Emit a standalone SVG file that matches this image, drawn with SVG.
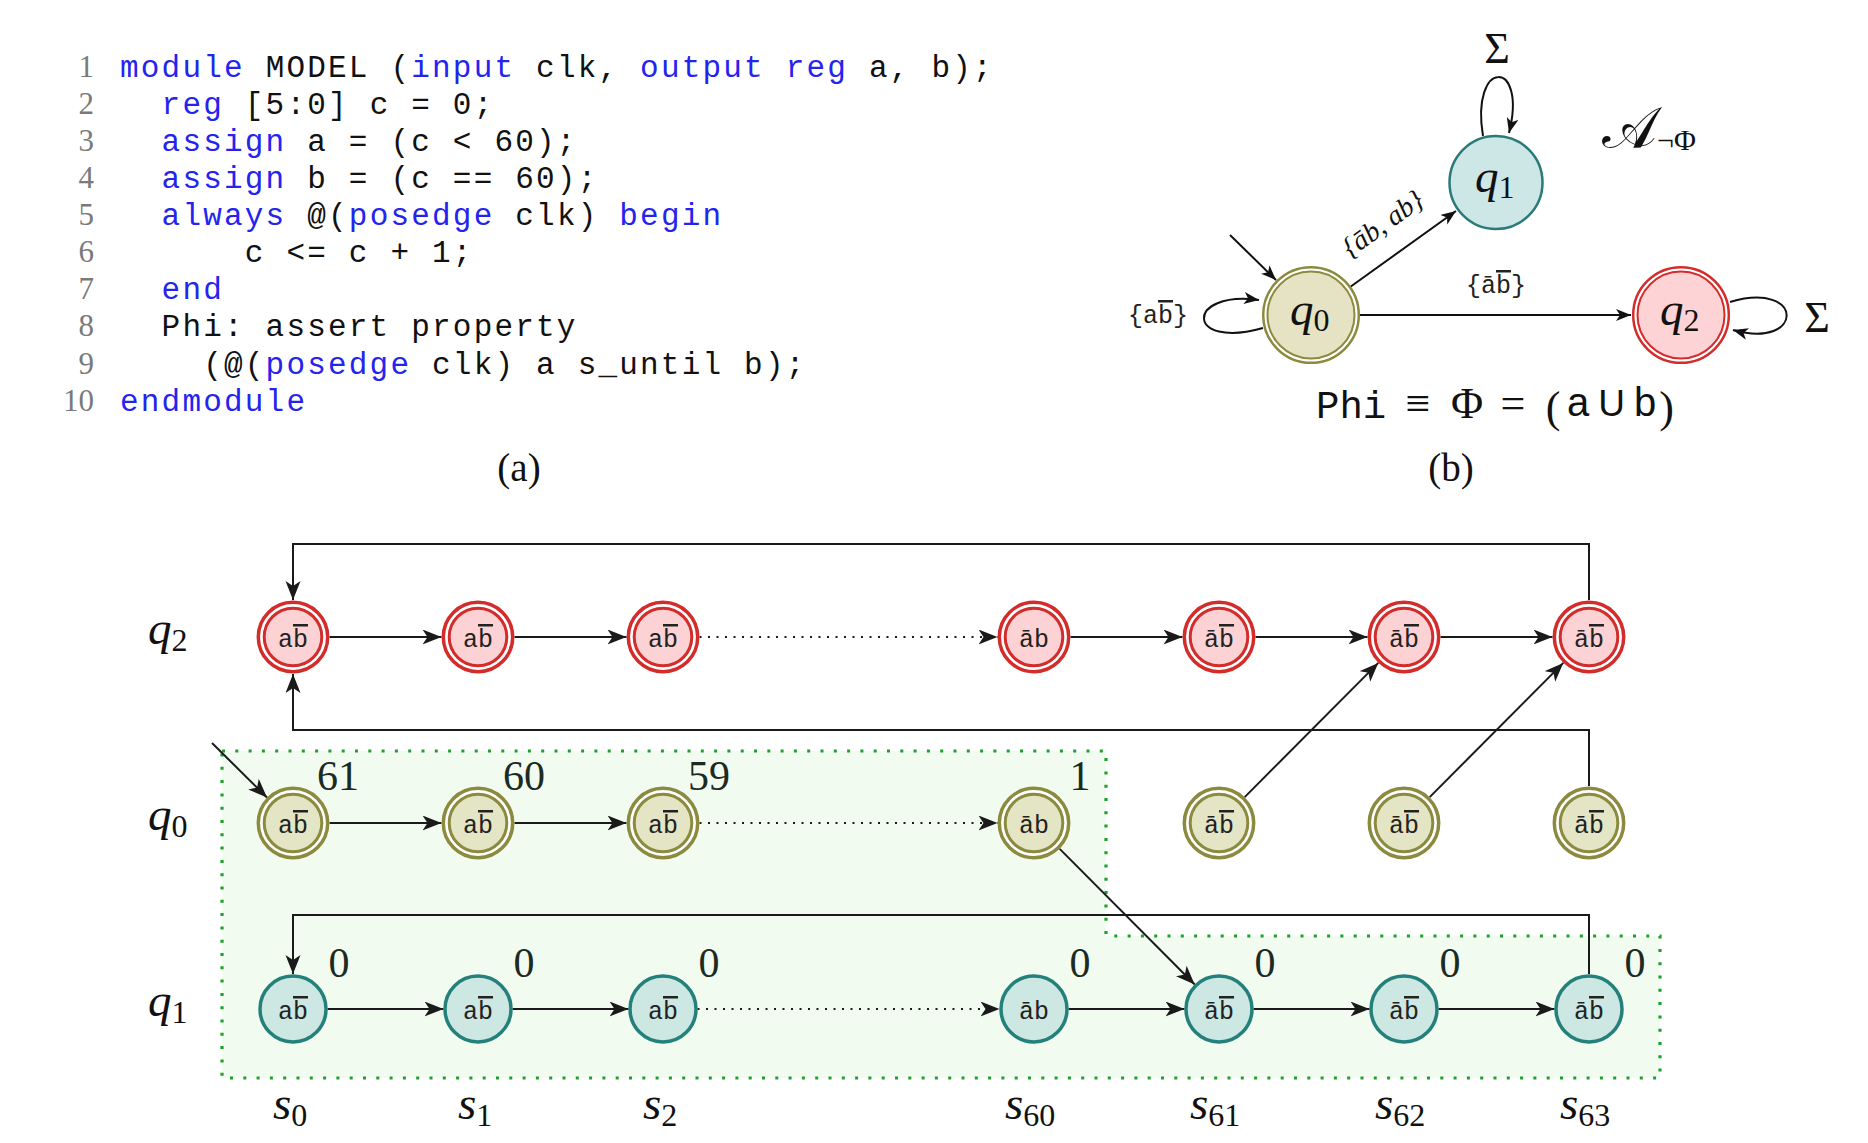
<svg xmlns="http://www.w3.org/2000/svg" width="1868" height="1143" viewBox="0 0 1868 1143">
<defs>
<style>
.code{font-family:"Liberation Mono",monospace;font-size:31px;letter-spacing:2.2px;white-space:pre;fill:#111}
.kw{fill:#2424ee}
.ln{font-family:"Liberation Serif",serif;font-size:31px;fill:#7a7a7a;text-anchor:end}
.cap{font-family:"Liberation Serif",serif;font-size:39px;fill:#111;text-anchor:middle}
.mi{font-family:"Liberation Serif",serif;font-style:italic;font-size:47px;fill:#111}
.sub{font-family:"Liberation Serif",serif;font-style:normal;font-size:32px}
.num{font-family:"Liberation Serif",serif;font-size:42px;fill:#1c2a22;text-anchor:middle}
.lbl{font-family:"Liberation Mono",monospace;font-size:25px;fill:#222;text-anchor:middle}
.ov{text-decoration:overline}
.rO{fill:#fff;stroke:#d42b2b;stroke-width:3.5}
.rI{fill:#fcd2d4;stroke:#d42b2b;stroke-width:3}
.oO{fill:#fff;stroke:#8b8a3e;stroke-width:3.5}
.oI{fill:#e4e5c5;stroke:#8b8a3e;stroke-width:3}
.tc{fill:#cde7e3;stroke:#23807a;stroke-width:3.5}
.ea{fill:none;stroke:#1a1a1a;stroke-width:2;marker-end:url(#arr)}
.ed{fill:none;stroke:#1a1a1a;stroke-width:2;stroke-dasharray:2 6.5;marker-end:url(#arr)}
.eb{fill:none;stroke:#111;stroke-width:2;marker-end:url(#arr2)}
.sm{font-family:"Liberation Serif",serif;font-size:44px;fill:#111;text-anchor:middle}
</style>
<marker id="arr" markerUnits="userSpaceOnUse" markerWidth="20" markerHeight="16" refX="19" refY="7.5" orient="auto">
<path d="M0,0 L19,7.5 L0,15 L5,7.5 Z" fill="#1a1a1a"/>
</marker>
<marker id="arr2" markerUnits="userSpaceOnUse" markerWidth="16" markerHeight="13" refX="15" refY="6" orient="auto">
<path d="M0,0 L15,6 L0,12 L4,6 Z" fill="#111"/>
</marker>
</defs>
<rect width="1868" height="1143" fill="#fff"/>

<!-- (a) code listing -->
<g id="code">
<text class="ln" x="94" y="77">1</text>
<text class="ln" x="94" y="114.1">2</text>
<text class="ln" x="94" y="151.1">3</text>
<text class="ln" x="94" y="188.2">4</text>
<text class="ln" x="94" y="225.2">5</text>
<text class="ln" x="94" y="262.3">6</text>
<text class="ln" x="94" y="299.4">7</text>
<text class="ln" x="94" y="336.4">8</text>
<text class="ln" x="94" y="373.5">9</text>
<text class="ln" x="94" y="410.5">10</text>
<text class="code" x="120" y="77"><tspan class="kw">module</tspan> MODEL (<tspan class="kw">input</tspan> clk, <tspan class="kw">output</tspan> <tspan class="kw">reg</tspan> a, b);</text>
<text class="code" x="161.6" y="114.1"><tspan class="kw">reg</tspan> [5:0] c = 0;</text>
<text class="code" x="161.6" y="151.1"><tspan class="kw">assign</tspan> a = (c &lt; 60);</text>
<text class="code" x="161.6" y="188.2"><tspan class="kw">assign</tspan> b = (c == 60);</text>
<text class="code" x="161.6" y="225.2"><tspan class="kw">always</tspan> @(<tspan class="kw">posedge</tspan> clk) <tspan class="kw">begin</tspan></text>
<text class="code" x="244.8" y="262.3">c &lt;= c + 1;</text>
<text class="code" x="161.6" y="299.4"><tspan class="kw">end</tspan></text>
<text class="code" x="161.6" y="336.4">Phi: assert property</text>
<text class="code" x="203.2" y="373.5">(@(<tspan class="kw">posedge</tspan> clk) a s_until b);</text>
<text class="code" x="120" y="410.5"><tspan class="kw">endmodule</tspan></text>
<text class="cap" x="519" y="481">(a)</text>
</g>

<!-- (b) automaton -->
<g id="automaton-edges">
<path class="eb" d="M1230,235 L1276,280"/>
<path class="eb" d="M1263,328 C1185,350 1185,290 1259,300"/>
<path class="eb" d="M1350.8,286.5 L1456,211"/>
<path class="eb" d="M1360,315 L1631,315"/>
<path class="eb" d="M1483,136 C1470,58 1528,58 1509,133"/>
<path class="eb" d="M1730,302 C1805,280 1805,350 1733,330"/>
</g>
<g id="aq0">
<circle cx="1311" cy="315" r="47.8" fill="#fff" stroke="#8b8a3e" stroke-width="2.5"/>
<circle cx="1311" cy="315" r="43.5" fill="#e6e3c4" stroke="#8b8a3e" stroke-width="2"/>
<text class="mi" x="1290" y="325" font-size="46">q<tspan class="sub" font-size="31" dy="6">0</tspan></text>
</g>
<g id="aq1">
<circle cx="1496" cy="182.5" r="46.5" fill="#cde6e6" stroke="#2b7a7a" stroke-width="2.5"/>
<text class="mi" x="1475" y="192" font-size="46">q<tspan class="sub" font-size="31" dy="6">1</tspan></text>
</g>
<g id="aq2">
<circle cx="1681" cy="315" r="47.8" fill="#fff" stroke="#d42b2b" stroke-width="2.5"/>
<circle cx="1681" cy="315" r="43.5" fill="#fdd3d5" stroke="#d42b2b" stroke-width="2"/>
<text class="mi" x="1660" y="325" font-size="46">q<tspan class="sub" font-size="31" dy="6">2</tspan></text>
</g>
<g id="automaton-labels">
<text class="sm" x="1497" y="63" font-size="46">Σ</text>
<text class="sm" x="1817" y="332" font-size="46">Σ</text>
<text x="1602" y="148" font-family="DejaVu Serif, serif" font-size="58" fill="#111">𝒜<tspan font-family="Liberation Serif" font-size="30" dy="2">¬Φ</tspan></text>
<text class="lbl" x="1158" y="323">{a<tspan class="ov">b</tspan>}</text>
<text class="lbl" x="1496" y="293">{&#x101;<tspan class="ov">b</tspan>}</text>
<text font-family="Liberation Serif" font-style="italic" font-size="28" fill="#111" text-anchor="middle" transform="translate(1388,231) rotate(-35.6)">{&#x101;b, ab}</text>
<text x="1316" y="418" font-family="Liberation Mono" font-size="39" fill="#111">Phi</text>
<text class="sm" x="1418" y="418" font-size="44">≡</text>
<text class="sm" x="1467" y="418" font-size="44">Φ</text>
<text class="sm" x="1513" y="418" font-size="44">=</text>
<text class="sm" x="1553" y="422" font-size="50">(</text>
<text x="1578" y="416" font-family="Liberation Sans" font-size="40" fill="#111" text-anchor="middle">a</text>
<text x="1611.5" y="416" font-family="Liberation Sans" font-size="37" fill="#111" text-anchor="middle">U</text>
<text x="1645" y="416" font-family="Liberation Sans" font-size="40" fill="#111" text-anchor="middle">b</text>
<text class="sm" x="1666.5" y="422" font-size="50">)</text>
<text class="cap" x="1451" y="481">(b)</text>
</g>

<!-- (c) product unrolling -->
<path id="region" d="M222,751 H1106 V936 H1660 V1078 H222 Z" fill="#f2fbf0" stroke="#1ea02a" stroke-width="3.2" stroke-dasharray="3 10.3"/>

<g id="connectors">
<path class="ea" d="M1589,600 V544 H293 V600"/>
<path class="ea" d="M1589,786 V730 H293 V674"/>
<path class="ea" d="M1589,974 V915 H293 V974"/>
<path class="ea" d="M329.5,637 H441.5"/>
<path class="ea" d="M514.5,637 H626.5"/>
<path class="ed" d="M699.5,637 H997.5"/>
<path class="ea" d="M1070.5,637 H1182.5"/>
<path class="ea" d="M1255.5,637 H1367.5"/>
<path class="ea" d="M1440.5,637 H1552.5"/>
<path class="ea" d="M329.5,823 H441.5"/>
<path class="ea" d="M514.5,823 H626.5"/>
<path class="ed" d="M699.5,823 H997.5"/>
<path class="ea" d="M327.5,1009 H443.5"/>
<path class="ea" d="M512.5,1009 H628.5"/>
<path class="ed" d="M697.5,1009 H999.5"/>
<path class="ea" d="M1068.5,1009 H1184.5"/>
<path class="ea" d="M1253.5,1009 H1369.5"/>
<path class="ea" d="M1438.5,1009 H1554.5"/>
<path class="ea" d="M212,743 L267,797.5"/>
<path class="ea" d="M1244.7,797.1 L1378.3,662.9"/>
<path class="ea" d="M1429.7,797.1 L1563.3,662.9"/>
<path class="ea" d="M1059.7,848.9 L1194.7,984.5"/>
</g>

<!-- q2 row -->
<g id="q2s0"><circle class="rO" cx="293" cy="637" r="34.7"/><circle class="rI" cx="293" cy="637" r="28.8"/><text class="lbl" x="293" y="647">a<tspan class="ov">b</tspan></text></g>
<g id="q2s1"><circle class="rO" cx="478" cy="637" r="34.7"/><circle class="rI" cx="478" cy="637" r="28.8"/><text class="lbl" x="478" y="647">a<tspan class="ov">b</tspan></text></g>
<g id="q2s2"><circle class="rO" cx="663" cy="637" r="34.7"/><circle class="rI" cx="663" cy="637" r="28.8"/><text class="lbl" x="663" y="647">a<tspan class="ov">b</tspan></text></g>
<g id="q2s60"><circle class="rO" cx="1034" cy="637" r="34.7"/><circle class="rI" cx="1034" cy="637" r="28.8"/><text class="lbl" x="1034" y="647">&#x101;b</text></g>
<g id="q2s61"><circle class="rO" cx="1219" cy="637" r="34.7"/><circle class="rI" cx="1219" cy="637" r="28.8"/><text class="lbl" x="1219" y="647">&#x101;<tspan class="ov">b</tspan></text></g>
<g id="q2s62"><circle class="rO" cx="1404" cy="637" r="34.7"/><circle class="rI" cx="1404" cy="637" r="28.8"/><text class="lbl" x="1404" y="647">&#x101;<tspan class="ov">b</tspan></text></g>
<g id="q2s63"><circle class="rO" cx="1589" cy="637" r="34.7"/><circle class="rI" cx="1589" cy="637" r="28.8"/><text class="lbl" x="1589" y="647">&#x101;<tspan class="ov">b</tspan></text></g>

<!-- q0 row -->
<g id="q0s0"><circle class="oO" cx="293" cy="823" r="34.7"/><circle class="oI" cx="293" cy="823" r="28.8"/><text class="lbl" x="293" y="833">a<tspan class="ov">b</tspan></text></g>
<g id="q0s1"><circle class="oO" cx="478" cy="823" r="34.7"/><circle class="oI" cx="478" cy="823" r="28.8"/><text class="lbl" x="478" y="833">a<tspan class="ov">b</tspan></text></g>
<g id="q0s2"><circle class="oO" cx="663" cy="823" r="34.7"/><circle class="oI" cx="663" cy="823" r="28.8"/><text class="lbl" x="663" y="833">a<tspan class="ov">b</tspan></text></g>
<g id="q0s60"><circle class="oO" cx="1034" cy="823" r="34.7"/><circle class="oI" cx="1034" cy="823" r="28.8"/><text class="lbl" x="1034" y="833">&#x101;b</text></g>
<g id="q0s61"><circle class="oO" cx="1219" cy="823" r="34.7"/><circle class="oI" cx="1219" cy="823" r="28.8"/><text class="lbl" x="1219" y="833">&#x101;<tspan class="ov">b</tspan></text></g>
<g id="q0s62"><circle class="oO" cx="1404" cy="823" r="34.7"/><circle class="oI" cx="1404" cy="823" r="28.8"/><text class="lbl" x="1404" y="833">&#x101;<tspan class="ov">b</tspan></text></g>
<g id="q0s63"><circle class="oO" cx="1589" cy="823" r="34.7"/><circle class="oI" cx="1589" cy="823" r="28.8"/><text class="lbl" x="1589" y="833">&#x101;<tspan class="ov">b</tspan></text></g>

<!-- q1 row -->
<g id="q1s0"><circle class="tc" cx="293" cy="1009" r="33"/><text class="lbl" x="293" y="1019">a<tspan class="ov">b</tspan></text></g>
<g id="q1s1"><circle class="tc" cx="478" cy="1009" r="33"/><text class="lbl" x="478" y="1019">a<tspan class="ov">b</tspan></text></g>
<g id="q1s2"><circle class="tc" cx="663" cy="1009" r="33"/><text class="lbl" x="663" y="1019">a<tspan class="ov">b</tspan></text></g>
<g id="q1s60"><circle class="tc" cx="1034" cy="1009" r="33"/><text class="lbl" x="1034" y="1019">&#x101;b</text></g>
<g id="q1s61"><circle class="tc" cx="1219" cy="1009" r="33"/><text class="lbl" x="1219" y="1019">&#x101;<tspan class="ov">b</tspan></text></g>
<g id="q1s62"><circle class="tc" cx="1404" cy="1009" r="33"/><text class="lbl" x="1404" y="1019">&#x101;<tspan class="ov">b</tspan></text></g>
<g id="q1s63"><circle class="tc" cx="1589" cy="1009" r="33"/><text class="lbl" x="1589" y="1019">&#x101;<tspan class="ov">b</tspan></text></g>

<g id="counters">
<text class="num" x="338" y="790">61</text>
<text class="num" x="524" y="790">60</text>
<text class="num" x="709" y="790">59</text>
<text class="num" x="1080" y="790">1</text>
<text class="num" x="339" y="977">0</text>
<text class="num" x="524" y="977">0</text>
<text class="num" x="709" y="977">0</text>
<text class="num" x="1080" y="977">0</text>
<text class="num" x="1265" y="977">0</text>
<text class="num" x="1450" y="977">0</text>
<text class="num" x="1635" y="977">0</text>
</g>

<g id="row-labels">
<text class="mi" x="148" y="644">q<tspan class="sub" dy="7">2</tspan></text>
<text class="mi" x="148" y="830">q<tspan class="sub" dy="7">0</tspan></text>
<text class="mi" x="148" y="1016">q<tspan class="sub" dy="7">1</tspan></text>
</g>
<g id="col-labels">
<text class="mi" x="273" y="1119">s<tspan class="sub" dy="7">0</tspan></text>
<text class="mi" x="458" y="1119">s<tspan class="sub" dy="7">1</tspan></text>
<text class="mi" x="643" y="1119">s<tspan class="sub" dy="7">2</tspan></text>
<text class="mi" x="1005" y="1119">s<tspan class="sub" dy="7">60</tspan></text>
<text class="mi" x="1190" y="1119">s<tspan class="sub" dy="7">61</tspan></text>
<text class="mi" x="1375" y="1119">s<tspan class="sub" dy="7">62</tspan></text>
<text class="mi" x="1560" y="1119">s<tspan class="sub" dy="7">63</tspan></text>
</g>
</svg>
